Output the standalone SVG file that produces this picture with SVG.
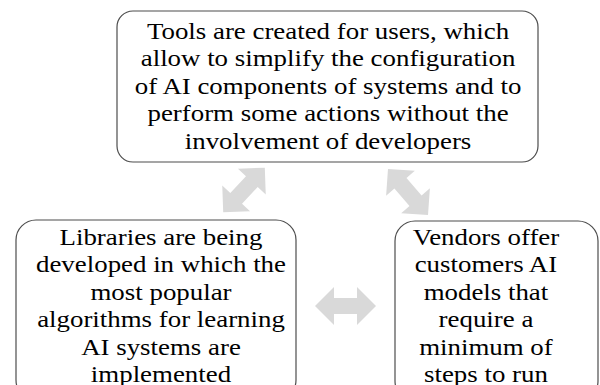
<svg xmlns="http://www.w3.org/2000/svg" width="600" height="385" viewBox="0 0 600 385">
  <defs>
    <style>
      .box { fill: #ffffff; stroke: #4d4d4d; stroke-width: 1.2; }
      .lbl { font-family: "Liberation Serif", "Times New Roman", serif; font-size: 24px; fill: #000000; text-anchor: middle; }
      .arrow { fill: #d9d9d9; }
    </style>
    <!-- double-headed block arrow, centred on the origin, pointing along x -->
    <path id="dblArrow" d="M -30.5,0 L -11.5,-19 L -11.5,-8 L 11.5,-8 L 11.5,-19 L 30.5,0 L 11.5,19 L 11.5,8 L -11.5,8 L -11.5,19 Z"/>
  </defs>
  <rect width="600" height="385" fill="#ffffff"/>

  <g id="connectors">
    <use href="#dblArrow" class="arrow" transform="translate(244,190) rotate(-47)"/>
    <use href="#dblArrow" class="arrow" transform="translate(408,192) rotate(49)"/>
    <use href="#dblArrow" class="arrow" transform="translate(345.5,306)"/>
  </g>

  <g id="node-tools">
    <rect class="box" x="117" y="11" width="421" height="151" rx="16"/>
    <g transform="scale(1.12,1)">
      <text class="lbl" x="292.9" y="39">Tools are created for users, which</text>
      <text class="lbl" x="292.9" y="66.5">allow to simplify the configuration</text>
      <text class="lbl" x="292.9" y="94">of AI components of systems and to</text>
      <text class="lbl" x="292.9" y="121.5">perform some actions without the</text>
      <text class="lbl" x="292.9" y="149">involvement of developers</text>
    </g>
  </g>

  <g id="node-libraries">
    <rect class="box" x="16" y="220" width="280" height="180" rx="20"/>
    <g transform="scale(1.12,1)">
      <text class="lbl" x="143.75" y="245">Libraries are being</text>
      <text class="lbl" x="143.75" y="272.5">developed in which the</text>
      <text class="lbl" x="143.75" y="300">most popular</text>
      <text class="lbl" x="143.75" y="327.5">algorithms for learning</text>
      <text class="lbl" x="143.75" y="355">AI systems are</text>
      <text class="lbl" x="143.75" y="382.5">implemented</text>
    </g>
  </g>

  <g id="node-vendors">
    <rect class="box" x="395" y="221" width="203" height="180" rx="20"/>
    <g transform="scale(1.12,1)">
      <text class="lbl" x="433.9" y="245">Vendors offer</text>
      <text class="lbl" x="433.9" y="272.5">customers AI</text>
      <text class="lbl" x="433.9" y="300">models that</text>
      <text class="lbl" x="433.9" y="327.5">require a</text>
      <text class="lbl" x="433.9" y="355">minimum of</text>
      <text class="lbl" x="433.9" y="382.5">steps to run</text>
    </g>
  </g>
</svg>
